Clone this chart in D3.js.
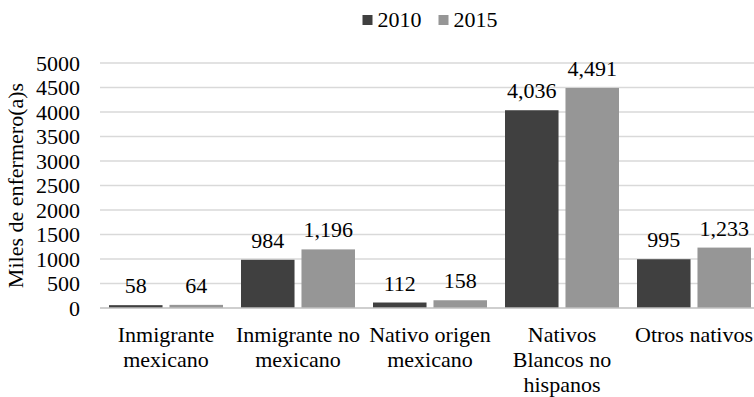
<!DOCTYPE html>
<html>
<head>
<meta charset="utf-8">
<script src="https://cdn.jsdelivr.net/npm/d3@7"></script>
</head>
<body style="margin:0;background:#fff">
<svg id="chart" width="754" height="397"></svg>
<script>
const categories = ["Inmigrante mexicano", "Inmigrante no mexicano", "Nativo origen mexicano", "Nativos Blancos no hispanos", "Otros nativos"];
const seriesNames = ["2010", "2015"];
const values2010 = [58, 984, 112, 4036, 995];
const values2015 = [64, 1196, 158, 4491, 1233];
const yTicks = [0, 500, 1000, 1500, 2000, 2500, 3000, 3500, 4000, 4500, 5000];
const yTitle = "Miles de enfermero(a)s";
const colors = ["#404040", "#969696"];

const W = 754, H = 397;
const plot = { left: 100, right: 760, top: 63, bottom: 308 };
const fontSize = 22;
const FONT = '"Liberation Serif"';

const svg = d3.select("#chart");

const x0 = d3.scaleBand().domain(categories).range([plot.left, plot.right]).padding(0);
const x1 = d3.scaleBand().domain(seriesNames).range([9, x0.bandwidth() - 9]).paddingInner(0.115).paddingOuter(0);
const y = d3.scaleLinear().domain([0, 5000]).range([plot.bottom, plot.top]);

function styleText(sel) {
  return sel.attr("font-family", FONT).attr("font-size", fontSize).attr("fill", "#000");
}

// gridlines
svg.append("g").selectAll("line").data(yTicks.filter(d => d > 0)).join("line")
  .attr("x1", plot.left).attr("x2", W)
  .attr("y1", d => y(d)).attr("y2", d => y(d))
  .attr("stroke", "#d9d9d9").attr("stroke-width", 1.3);

// y axis tick labels
const yAxis = d3.axisLeft(y).tickValues(yTicks).tickSize(0).tickPadding(20).tickFormat(d3.format("d"));
const gy = svg.append("g").attr("transform", `translate(${plot.left},0)`).call(yAxis);
gy.attr("font-family", FONT).attr("font-size", fontSize);
gy.select(".domain").remove();
styleText(gy.selectAll("text"));

// y title
styleText(svg.append("text")
  .attr("transform", `translate(23,${(plot.top + plot.bottom) / 2}) rotate(-90)`)
  .attr("text-anchor", "middle"))
  .text(yTitle);

// bars
const data = categories.map((c, i) => ({ cat: c, vals: [values2010[i], values2015[i]] }));
const fmt = d3.format(",");
const groups = svg.append("g").selectAll("g").data(data).join("g")
  .attr("transform", d => `translate(${x0(d.cat)},0)`);
groups.selectAll("rect").data(d => d.vals.map((v, j) => ({ s: seriesNames[j], v, j }))).join("rect")
  .attr("x", d => x1(d.s)).attr("width", x1.bandwidth())
  .attr("y", d => y(d.v)).attr("height", d => y(0) - y(d.v))
  .attr("fill", d => colors[d.j]);
styleText(groups.selectAll("text.lbl").data(d => d.vals.map((v, j) => ({ s: seriesNames[j], v, j }))).join("text")
  .attr("class", "lbl")
  .attr("x", d => x1(d.s) + x1.bandwidth() / 2)
  .attr("y", d => y(d.v) - 12)
  .attr("text-anchor", "middle"))
  .text(d => fmt(d.v));

// x axis baseline
svg.append("line")
  .attr("x1", plot.left).attr("x2", W)
  .attr("y1", y(0)).attr("y2", y(0))
  .attr("stroke", "#bfbfbf").attr("stroke-width", 1.3);

// category labels with wrapping
const maxW = x0.bandwidth();
const catG = svg.append("g");
categories.forEach(c => {
  const cx = x0(c) + x0.bandwidth() / 2;
  const words = c.split(" ");
  const lines = [];
  let line = [];
  const probe = styleText(catG.append("text"));
  words.forEach(w => {
    const trial = line.concat([w]).join(" ");
    probe.text(trial);
    if (probe.node().getComputedTextLength() > maxW && line.length > 0) {
      lines.push(line.join(" "));
      line = [w];
    } else {
      line.push(w);
    }
  });
  lines.push(line.join(" "));
  probe.remove();
  lines.forEach((ln, k) => {
    styleText(catG.append("text")
      .attr("x", cx)
      .attr("y", 342 + k * 25)
      .attr("text-anchor", "middle"))
      .text(ln);
  });
});

// legend
const legend = svg.append("g");
const items = [];
seriesNames.forEach((s, j) => {
  const g = legend.append("g");
  g.append("rect").attr("x", 0).attr("y", 15).attr("width", 10).attr("height", 10).attr("fill", colors[j]);
  const tx = styleText(g.append("text").attr("x", 15).attr("y", 27)).text(s);
  const w = 15 + tx.node().getComputedTextLength();
  items.push({ g, w });
});
let total = items.reduce((a, b) => a + b.w, 0) + 17 * (items.length - 1);
let start = (plot.left + plot.right) / 2 - total / 2;
items.forEach(it => { it.g.attr("transform", `translate(${start},0)`); start += it.w + 17; });
</script>
</body>
</html>
